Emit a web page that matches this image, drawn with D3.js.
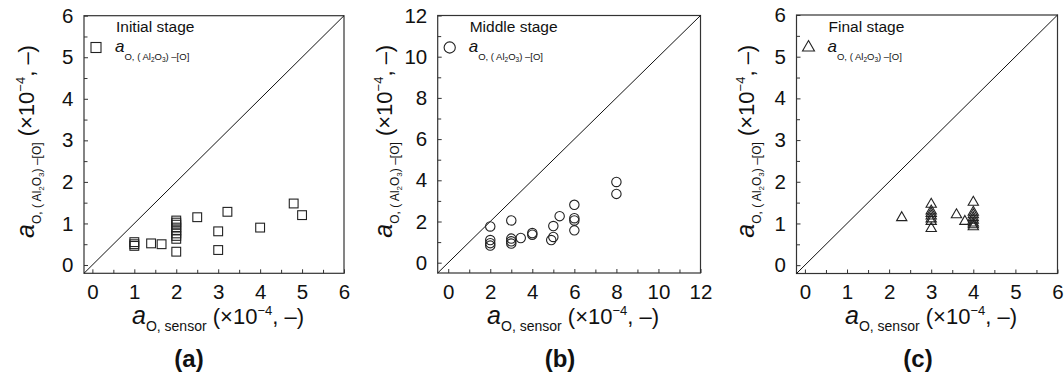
<!DOCTYPE html>
<html>
<head>
<meta charset="utf-8">
<script src="https://cdn.jsdelivr.net/npm/d3@7"></script>
<style>
body { margin: 0; background: #fff; }
text { font-family: "Liberation Sans", Arial, sans-serif; fill: #111; }
</style>
</head>
<body>
<div id="chart"></div>
<script>
// values (x10^-4)
var initialX = [1, 1, 1, 1.4, 1.65, 2, 2, 2, 2, 2, 2, 2, 2, 2, 2.5, 3.22, 3, 3, 4, 4.8, 5];
var initialY = [0.55, 0.5, 0.46, 0.52, 0.5, 1.07, 1.02, 0.97, 0.9, 0.83, 0.76, 0.7, 0.63, 0.32, 1.15, 1.28, 0.81, 0.36, 0.9, 1.48, 1.2];

var middleX = [2, 2, 2, 2, 3, 3, 3, 3, 3.45, 4, 4, 4.9, 5, 5, 5.3, 6, 6, 6, 6, 8, 8];
var middleY = [1.76, 1.1, 0.95, 0.83, 2.05, 1.17, 1.04, 0.93, 1.2, 1.44, 1.36, 1.1, 1.25, 1.78, 2.26, 2.81, 2.16, 2.05, 1.57, 3.92, 3.34];

var finalX = [2.3, 3, 3, 3, 3, 3, 3, 3, 3.6, 3.8, 4, 4, 4, 4, 4, 4, 4, 4];
var finalY = [1.14, 1.46, 1.3, 1.24, 1.18, 1.11, 1.05, 0.88, 1.21, 1.05, 1.51, 1.27, 1.21, 1.14, 1.08, 1.01, 0.97, 0.92];

var ticks6 = [0, 1, 2, 3, 4, 5, 6];
var ticks12 = [0, 2, 4, 6, 8, 10, 12];
var stageNames = ["Initial stage", "Middle stage", "Final stage"];
var panelTags = ["(a)", "(b)", "(c)"];

var svg = d3.select("#chart")
	.append("svg")
	.attr("width", 1064)
	.attr("height", 379);

var panels = [
	{ left: 84, right: 344, top: 15.7, bottom: 273.3, min: -0.2, max: 6, ticks: ticks6, xs: initialX, ys: initialY, mark: "square", tagX: 189, ylabOff: 50 },
	{ left: 437.7, right: 700.5, top: 15.5, bottom: 273, min: -0.5, max: 12, ticks: ticks12, xs: middleX, ys: middleY, mark: "circle", tagX: 560, ylabOff: 46 },
	{ left: 796.5, right: 1057.5, top: 15, bottom: 273.5, min: -0.2, max: 6, ticks: ticks6, xs: finalX, ys: finalY, mark: "triangle", tagX: 918, ylabOff: 43 }
];

function drawMark(sel, kind, big) {
	if (kind == "square") {
		var s = big ? 10 : 8.8;
		sel.append("rect").attr("x", -s / 2).attr("y", -s / 2).attr("width", s).attr("height", s);
	} else if (kind == "circle") {
		sel.append("circle").attr("r", big ? 5.6 : 4.7);
	} else {
		sel.append("path").attr("d", d3.symbol().type(d3.symbolTriangle).size(big ? 62 : 46)());
	}
	sel.selectAll("rect,circle,path")
		.style("fill", "none")
		.style("stroke", "#222")
		.style("stroke-width", 1.1);
}

panels.forEach(function(p, i) {
	var x = d3.scaleLinear().domain([p.min, p.max]).range([p.left, p.right]);
	var y = d3.scaleLinear().domain([p.min, p.max]).range([p.bottom, p.top]);
	var step = p.ticks[1] - p.ticks[0];
	// minor ticks sit half way between the labelled ones
	var minor = p.ticks.slice(0, -1).map(function(t) { return t + step / 2; });

	var g = svg.append("g");

	// minor ticks
	g.append("g")
		.attr("transform", "translate(0," + p.bottom + ")")
		.call(d3.axisBottom(x).tickValues(minor).tickSize(-3.5).tickFormat(""))
		.call(function(a) { a.select(".domain").remove(); });
	g.append("g")
		.attr("transform", "translate(" + p.left + ",0)")
		.call(d3.axisLeft(y).tickValues(minor).tickSize(-3.5).tickFormat(""))
		.call(function(a) { a.select(".domain").remove(); });

	// major ticks + labels
	var xa = g.append("g")
		.attr("transform", "translate(0," + p.bottom + ")")
		.call(d3.axisBottom(x).tickValues(p.ticks).tickFormat(d3.format("d")).tickSize(-4).tickPadding(11));
	var ya = g.append("g")
		.attr("transform", "translate(" + p.left + ",0)")
		.call(d3.axisLeft(y).tickValues(p.ticks).tickFormat(d3.format("d")).tickSize(-4).tickPadding(10.5));
	[xa, ya].forEach(function(a) {
		a.select(".domain").remove();
		a.selectAll("text").style("font-size", "20.5px").style("font-family", "'Liberation Sans', Arial, sans-serif").attr("fill", "#111");
	});
	g.selectAll(".tick line").attr("stroke", "#333");

	// frame
	g.append("rect")
		.attr("x", p.left).attr("y", p.top)
		.attr("width", p.right - p.left).attr("height", p.bottom - p.top)
		.style("fill", "none").style("stroke", "#333").style("stroke-width", 1.2);

	// y = x line
	g.append("line")
		.attr("x1", x(p.min)).attr("y1", y(p.min))
		.attr("x2", x(p.max)).attr("y2", y(p.max))
		.style("stroke", "#111").style("stroke-width", 1);

	// points
	var pts = p.xs.map(function(v, k) { return [v, p.ys[k]]; });
	g.selectAll(".pt")
		.data(pts)
		.enter().append("g")
		.attr("class", "pt")
		.attr("transform", function(d) { return "translate(" + x(d[0]) + "," + y(d[1]) + ")"; })
		.each(function() { drawMark(d3.select(this), p.mark, false); });

	// stage title and legend
	g.append("text")
		.attr("x", p.left + 32).attr("y", 32)
		.style("font-size", "15.5px")
		.text(stageNames[i]);
	var lg = g.append("g").attr("transform", "translate(" + (p.left + 12) + ",47.5)");
	drawMark(lg, p.mark, true);
	var lt = g.append("text")
		.attr("x", p.left + 31).attr("y", 52)
		.style("font-size", "17px");
	lt.append("tspan").style("font-style", "italic").text("a");
	lt.append("tspan").attr("dy", 8).style("font-size", "9.5px").text("O, ( Al");
	lt.append("tspan").attr("dy", 2).style("font-size", "6.5px").text("2");
	lt.append("tspan").attr("dy", -2).style("font-size", "9.5px").text("O");
	lt.append("tspan").attr("dy", 2).style("font-size", "6.5px").text("3");
	lt.append("tspan").attr("dy", -2).style("font-size", "9.5px").text(") \u2013[O]");

	// x axis title
	var cx = (p.left + p.right) / 2 + 4;
	var xt = g.append("text")
		.attr("x", cx).attr("y", 324)
		.attr("text-anchor", "middle")
		.style("font-size", "22px");
	xt.append("tspan").style("font-style", "italic").style("font-size", "25px").text("a");
	xt.append("tspan").attr("dy", 7).style("font-size", "14px").text("O, sensor");
	xt.append("tspan").attr("dy", -7).text(" (\u00d710");
	xt.append("tspan").attr("dy", -9).style("font-size", "13px").text("\u22124");
	xt.append("tspan").attr("dy", 9).text(", \u2013)");

	// y axis title
	var cy = (p.top + p.bottom) / 2 - 3;
	var yx = p.left - p.ylabOff;
	var yt = g.append("text")
		.attr("transform", "translate(" + yx + "," + cy + ") rotate(-90)")
		.attr("text-anchor", "middle")
		.style("font-size", "22px");
	yt.append("tspan").style("font-style", "italic").style("font-size", "25px").text("a");
	yt.append("tspan").attr("dy", 7).style("font-size", "12px").text("O, ( Al");
	yt.append("tspan").attr("dy", 3).style("font-size", "8px").text("2");
	yt.append("tspan").attr("dy", -3).style("font-size", "12px").text("O");
	yt.append("tspan").attr("dy", 3).style("font-size", "8px").text("3");
	yt.append("tspan").attr("dy", -3).style("font-size", "12px").text(") \u2013[O]");
	yt.append("tspan").attr("dy", -7).text(" (\u00d710");
	yt.append("tspan").attr("dy", -9).style("font-size", "13px").text("\u22124");
	yt.append("tspan").attr("dy", 9).text(", \u2013)");

	// panel tag
	g.append("text")
		.attr("x", p.tagX).attr("y", 367)
		.attr("text-anchor", "middle")
		.style("font-size", "24px").style("font-weight", "bold")
		.text(panelTags[i]);
});
</script>
</body>
</html>
